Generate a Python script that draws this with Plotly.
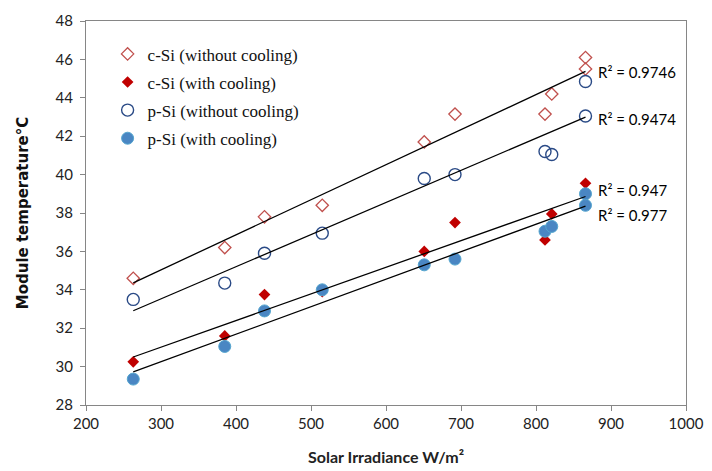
import numpy as np
import plotly.graph_objects as go

# Data
irradiance = [263, 385, 438, 515, 651, 692, 812, 821, 866, 866]
c_si_without = [34.6, 36.2, 37.8, 38.4, 41.7, 43.15, 43.15, 44.2, 45.5, 46.1]
c_si_with = [30.25, 31.6, 33.75, 33.9, 36.0, 37.5, 36.6, 37.95, 38.9, 39.55]
p_si_without = [33.5, 34.35, 35.9, 36.95, 39.8, 40.0, 41.2, 41.05, 43.05, 44.85]
p_si_with = [29.35, 31.05, 32.9, 34.0, 35.3, 35.6, 37.05, 37.3, 38.4, 39.0]

series_names = ["c-Si (without cooling)", "c-Si (with cooling)",
                "p-Si (without cooling)", "p-Si (with cooling)"]
r2_labels = ["R² = 0.9746", "R² = 0.947", "R² = 0.9474", "R² = 0.977"]
r2_label_y = [45.34, 39.18, 42.9, 37.91]
x_ticks = [200, 300, 400, 500, 600, 700, 800, 900, 1000]
y_ticks = [28, 30, 32, 34, 36, 38, 40, 42, 44, 46, 48]

series_values = [c_si_without, c_si_with, p_si_without, p_si_with]
markers = [
    dict(symbol="diamond-open", size=9.5, color="#C0504D", line=dict(color="#C0504D", width=1.3)),
    dict(symbol="diamond", size=9, color="#C00000", line=dict(color="#C00000", width=0)),
    dict(symbol="circle-open", size=12, color="#2A4A86", line=dict(color="#2A4A86", width=1.4)),
    dict(symbol="circle", size=12, color="#4A86C3", line=dict(color="#55A6CF", width=1)),
]

fig = go.Figure()
x_arr = np.array(irradiance, dtype=float)
for name, vals, mk in zip(series_names, series_values, markers):
    fig.add_trace(go.Scatter(x=irradiance, y=vals, mode="markers", name=name,
                             marker=mk, legendgroup=name))

for vals in series_values:
    slope, intercept = np.polyfit(x_arr, np.array(vals), 1)
    xs = [x_arr.min(), x_arr.max()]
    fig.add_trace(go.Scatter(x=xs, y=[slope * v + intercept for v in xs], mode="lines",
                             line=dict(color="black", width=1.3), showlegend=False,
                             hoverinfo="skip"))

for txt, yv in zip(r2_labels, r2_label_y):
    fig.add_annotation(x=880, y=yv, xref="x", yref="y", text=txt, showarrow=False,
                       xanchor="left", yanchor="middle",
                       font=dict(family="Lato", size=15, color="black"))

axis_common = dict(showline=True, linecolor="#868686", linewidth=1, mirror=True,
                   ticks="outside", ticklen=5, tickcolor="#868686", showgrid=False,
                   zeroline=False, automargin=False,
                   tickfont=dict(family="Lato", size=15, color="#222222"))

fig.update_xaxes(range=[200, 1000], tickvals=x_ticks,
                 title=dict(text="<b>Solar Irradiance W/m²</b>", standoff=20,
                            font=dict(family="Lato", size=16, color="#222222")),
                 **axis_common)
fig.update_yaxes(range=[28, 48], tickvals=y_ticks, ticklabelstandoff=4,
                 title=dict(text="<b>Module temperature°C</b>", standoff=23,
                            font=dict(family="DejaVu Sans", size=15, color="#111111")),
                 **axis_common)

fig.update_layout(
    width=712, height=471,
    margin=dict(l=78, r=34, t=13, b=74),
    paper_bgcolor="white", plot_bgcolor="white",
    legend=dict(x=0.036, y=0.96, xanchor="left", yanchor="top",
                font=dict(family="Liberation Serif", size=17, color="#111111"),
                bgcolor="rgba(0,0,0,0)", tracegroupgap=3, itemwidth=30),
    showlegend=True,
)

fig.write_html("out.html")
